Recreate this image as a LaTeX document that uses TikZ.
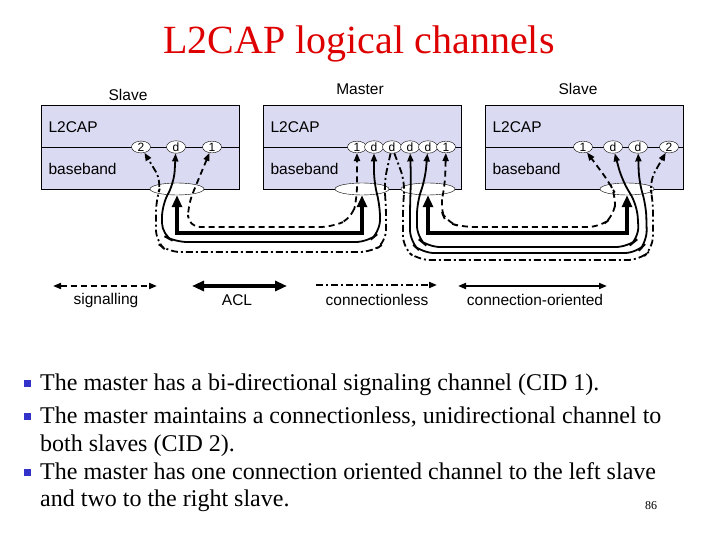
\documentclass[tikz,border=0pt]{standalone}
\usepackage{fontspec}
\setmainfont{Liberation Serif}
\newfontfamily\labelfont{Liberation Sans}
\usetikzlibrary{arrows.meta,shapes.geometric}
\definecolor{boxfill}{RGB}{218,218,242}
\definecolor{titlered}{RGB}{222,0,0}
\definecolor{bulletblue}{RGB}{51,51,204}

\begin{document}
\begin{tikzpicture}[x=1pt, y=-1pt, >={Triangle[length=8pt,width=6pt]},
  every node/.append style={font=\labelfont\fontsize{15.5}{18}\selectfont},
  layer/.style={draw, fill=boxfill, minimum width=198pt, minimum height=84pt, inner sep=0pt},
  port/.style={draw, fill=white, ellipse, minimum width=19pt, minimum height=10pt, inner sep=0pt,
    font=\labelfont\fontsize{12}{12}\selectfont},
  bb/.style={draw, fill=white, ellipse, minimum width=54pt, minimum height=12pt, inner sep=0pt},
  sig/.style={line width=1.8pt, dash pattern=on 6pt off 4pt},
  acl/.style={line width=4pt, >={Triangle[length=12pt,width=10pt]}},
  conn/.style={line width=1.8pt},
  cl/.style={line width=1.8pt, dash pattern=on 7pt off 3pt on 2pt off 3pt},
  bullettext/.style={anchor=base west, inner sep=0pt, font=\rmfamily\fontsize{24}{29}\selectfont},
  bulletdot/.style={fill=bulletblue, minimum size=7pt, inner sep=0pt}]
  \useasboundingbox (0,0) rectangle (720,540);

  \node[anchor=base, text=titlered, font=\rmfamily\fontsize{40}{48}\selectfont] (title) at (359,54) {L2CAP logical channels};

  % devices
  \node (slave-l-name) at (128,95) {Slave};
  \node (master-name) at (360,89) {Master};
  \node (slave-r-name) at (578,89) {Slave};
  \node[layer] (slave-l) at (140,147) {};
  \node[layer] (master) at (362,147) {};
  \node[layer] (slave-r) at (584,147) {};
  \foreach \dev in {slave-l, master, slave-r}
    \draw (\dev.west) -- (\dev.east);
  \node[anchor=west] (slave-l-l2cap) at (45,127) {L2CAP};
  \node[anchor=west] (slave-l-bb) at (45,169) {baseband};
  \node[anchor=west] (master-l2cap) at (267,127) {L2CAP};
  \node[anchor=west] (master-bb) at (267,169) {baseband};
  \node[anchor=west] (slave-r-l2cap) at (489,127) {L2CAP};
  \node[anchor=west] (slave-r-bb) at (489,169) {baseband};

  \node[bb] (slbb) at (177,189) {};
  \node[bb] (mbbl) at (362,189) {};
  \node[bb] (mbbr) at (428,189) {};
  \node[bb] (srbb) at (627,189) {};

  \node[port] (sl2) at (141,147) {2};
  \node[port] (sld) at (176,147) {d};
  \node[port] (sl1) at (212,147) {1};
  \node[port] (m1a) at (357,147) {1};
  \node[port] (mda) at (374,147) {d};
  \node[port] (mdb) at (392,147) {d};
  \node[port] (mdc) at (410,147) {d};
  \node[port] (mdd) at (428,147) {d};
  \node[port] (m1b) at (446,147) {1};
  \node[port] (sr1) at (583,147) {1};
  \node[port] (srda) at (613,147) {d};
  \node[port] (srdb) at (638,147) {d};
  \node[port] (sr2) at (669,147) {2};

  % channels to the left slave
  \draw[sig,<->,rounded corners=12pt] (sl1) -- (199,178) -- (188,205) -- (188,227) -- (332,227) -- (352,218) -- (357,198) -- (m1a);
  \draw[acl,<->] (slbb.south) -- ++(0,38) -| (mbbl.south);
  \draw[conn,<->,rounded corners=12pt] (sld) -- (174,183) -- (162,205) -- (162,235) -- (175,242) -- (368,242) -- (380,232) -- (380,205) -- (374,183) -- (mda);
  \draw[cl,->,rounded corners=12pt] (mdb) -- (384,183) -- (386,205) -- (386,242) -- (372,252) -- (168,252) -- (156,242) -- (156,200) -- (162,182) -- (sl2);

  % channels to the right slave
  \draw[sig,<->,rounded corners=12pt] (m1b) -- (445,185) -- (440,208) -- (446,222) -- (462,227) -- (600,227) -- (614,216) -- (616,195) -- (609,182) -- (sr1);
  \draw[acl,<->] (mbbr.south) -- ++(0,38) -| (srbb.south);
  \draw[conn,<->,rounded corners=12pt] (mdd) -- (425,180) -- (417,202) -- (417,238) -- (428,247) -- (628,247) -- (639,238) -- (637,205) -- (622,180) -- (srda);
  \draw[conn,<->,rounded corners=12pt] (mdc) -- (411,180) -- (410,205) -- (410,242) -- (422,253) -- (637,253) -- (647,242) -- (646,205) -- (639,182) -- (srdb);
  \draw[cl,->,rounded corners=12pt] (mdb) -- (405,182) -- (403,205) -- (403,248) -- (418,260) -- (640,260) -- (653,248) -- (653,200) -- (649,182) -- (sr2);

  % legend
  \coordinate (sig-l) at (53,286);  \coordinate (sig-r) at (157,286);
  \coordinate (acl-l) at (192,286); \coordinate (acl-r) at (287,286);
  \coordinate (cl-l) at (316,285);  \coordinate (cl-r) at (437,285);
  \coordinate (conn-l) at (458,286); \coordinate (conn-r) at (607,286);
  \draw[sig,<->] (sig-l) -- (sig-r);
  \draw[acl,<->] (acl-l) -- (acl-r);
  \draw[cl,->] (cl-l) -- (cl-r);
  \draw[conn,<->] (conn-l) -- (conn-r);
  \node (sig-text) at (106,300) {signalling};
  \node (acl-text) at (237,300) {ACL};
  \node (cl-text) at (377,300) {connectionless};
  \node (conn-text) at (535,300) {connection-oriented};

  % bullets
  \node[bulletdot] (dot1) at (27,383) {};
  \node[bulletdot] (dot2) at (27,416) {};
  \node[bulletdot] (dot3) at (27,472) {};
  \node[bullettext] (line1) at (40,390) {The master has a bi-directional signaling channel (CID 1).};
  \node[bullettext] (line2) at (40,423) {The master maintains a connectionless, unidirectional channel to};
  \node[bullettext] (line3) at (40,451) {both slaves (CID 2).};
  \node[bullettext] (line4) at (40,479) {The master has one connection oriented channel to the left slave};
  \node[bullettext] (line5) at (40,506) {and two to the right slave.};
  \node[font=\rmfamily\fontsize{12}{12}\selectfont] (pagenum) at (651,506) {86};
\end{tikzpicture}
\end{document}
